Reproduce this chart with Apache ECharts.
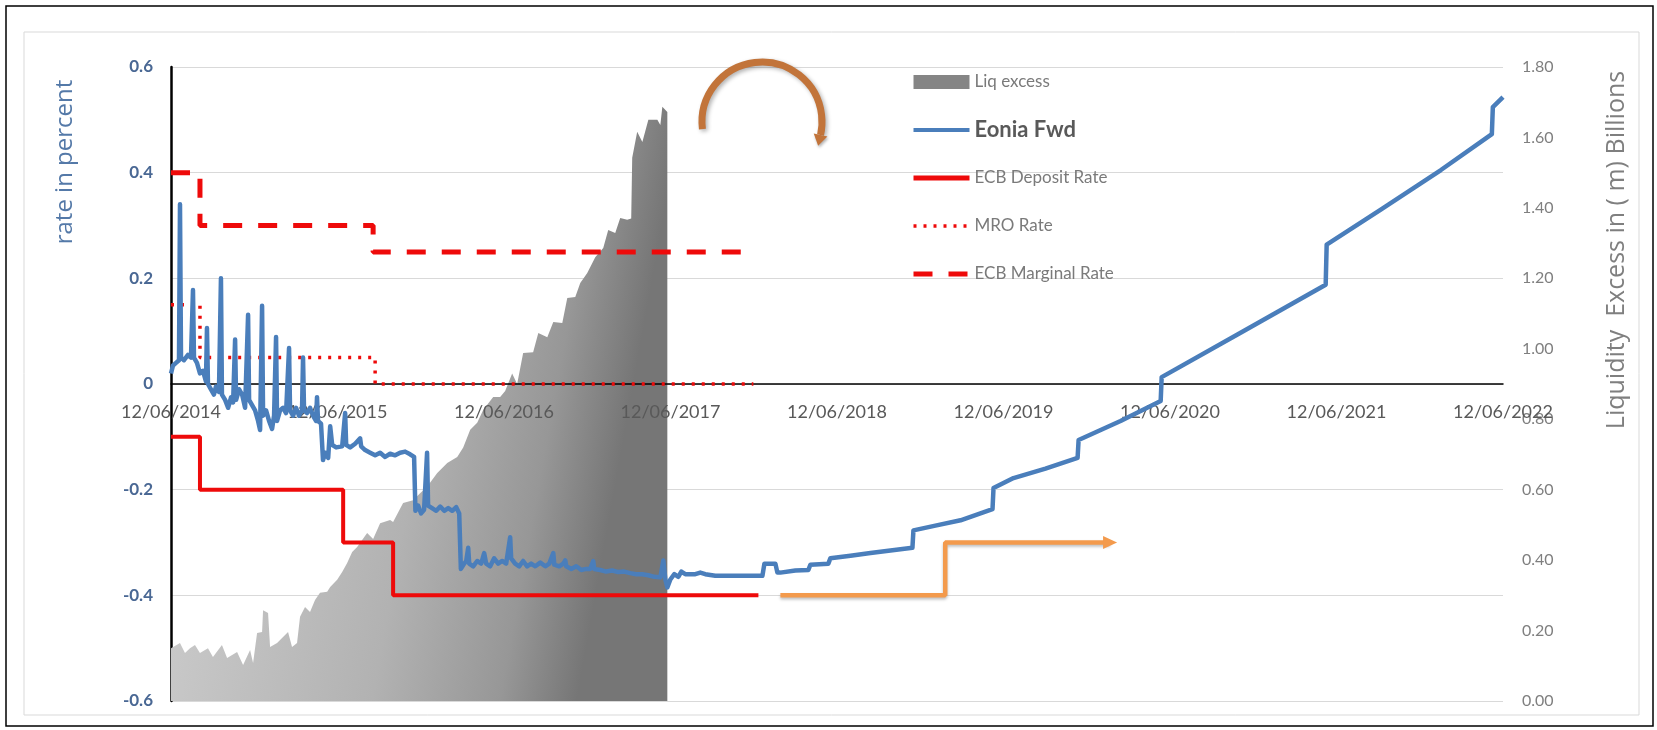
<!DOCTYPE html>
<html>
<head>
<meta charset="utf-8">
<title>Eonia forward, ECB rates and liquidity excess</title>
<script src="https://cdn.jsdelivr.net/npm/echarts@6/dist/echarts.min.js"></script>
<style>
  html, body { margin: 0; padding: 0; background: #ffffff; }
  #chart { width: 1657px; height: 730px; }
</style>
</head>
<body>
<div id="chart"></div>
<script>
// x positions are in years counted from 12/06/2014
const xTickLabels = ['12/06/2014', '12/06/2015', '12/06/2016', '12/06/2017', '12/06/2018',
  '12/06/2019', '12/06/2020', '12/06/2021', '12/06/2022'];

// Liquidity excess (right axis, billions)
const liqT = [0, 0.012, 0.054, 0.084, 0.114, 0.144, 0.174, 0.222, 0.252, 0.306, 0.337, 0.397, 0.433,
  0.475, 0.493, 0.517, 0.547, 0.553, 0.583, 0.595, 0.637, 0.655, 0.703, 0.727, 0.757, 0.775, 0.805,
  0.835, 0.865, 0.895, 0.938, 0.956, 0.998, 1.028, 1.058, 1.088, 1.118, 1.178, 1.214, 1.256, 1.316,
  1.334, 1.394, 1.454, 1.496, 1.538, 1.599, 1.659, 1.719, 1.755, 1.797, 1.839, 1.875, 1.935, 1.977,
  2.007, 2.049, 2.079, 2.115, 2.175, 2.206, 2.260, 2.296, 2.350, 2.380, 2.428, 2.458, 2.500, 2.548,
  2.596, 2.626, 2.668, 2.698, 2.740, 2.764, 2.770, 2.800, 2.831, 2.867, 2.921, 2.939, 2.951, 2.981];
const liqExcess = [0.15, 0.153, 0.165, 0.136, 0.15, 0.159, 0.136, 0.15, 0.125, 0.159, 0.122, 0.139, 0.102,
  0.145, 0.108, 0.193, 0.196, 0.258, 0.25, 0.153, 0.165, 0.173, 0.196, 0.153, 0.165, 0.239, 0.267,
  0.253, 0.287, 0.307, 0.31, 0.324, 0.344, 0.366, 0.392, 0.423, 0.437, 0.477, 0.46, 0.505, 0.514,
  0.508, 0.562, 0.57, 0.59, 0.608, 0.647, 0.676, 0.693, 0.72, 0.77, 0.79, 0.826, 0.863, 0.863,
  0.88, 0.93, 0.9, 0.988, 0.99, 1.045, 1.033, 1.076, 1.073, 1.144, 1.147, 1.187, 1.215, 1.26,
  1.286, 1.337, 1.329, 1.371, 1.366, 1.37, 1.542, 1.616, 1.587, 1.65, 1.65, 1.635, 1.687, 1.672];

// Eonia forward (left axis, percent)
const eoniaT = [0, 0.012, 0.030, 0.048, 0.054, 0.060, 0.078, 0.102, 0.120, 0.132, 0.138, 0.156, 0.174,
  0.192, 0.210, 0.216, 0.222, 0.240, 0.258, 0.270, 0.288, 0.300, 0.306, 0.325, 0.343, 0.361, 0.373,
  0.385, 0.391, 0.409, 0.427, 0.445, 0.463, 0.469, 0.487, 0.505, 0.523, 0.535, 0.547, 0.553, 0.571,
  0.589, 0.607, 0.619, 0.631, 0.637, 0.655, 0.673, 0.691, 0.709, 0.715, 0.733, 0.751, 0.769, 0.787,
  0.793, 0.799, 0.817, 0.835, 0.853, 0.871, 0.877, 0.883, 0.901, 0.913, 0.925, 0.944, 0.956, 0.968,
  0.992, 1.028, 1.046, 1.052, 1.076, 1.106, 1.136, 1.142, 1.166, 1.196, 1.226, 1.256, 1.286, 1.316,
  1.346, 1.376, 1.406, 1.436, 1.460, 1.468, 1.484, 1.502, 1.520, 1.532, 1.538, 1.544, 1.568, 1.593,
  1.617, 1.641, 1.665, 1.689, 1.713, 1.731, 1.741, 1.761, 1.773, 1.785, 1.791, 1.815, 1.839, 1.863,
  1.881, 1.893, 1.917, 1.941, 1.965, 1.989, 2.013, 2.037, 2.043, 2.067, 2.091, 2.115, 2.139, 2.163,
  2.188, 2.218, 2.248, 2.272, 2.296, 2.302, 2.332, 2.356, 2.368, 2.374, 2.404, 2.434, 2.464, 2.494,
  2.518, 2.536, 2.542, 2.578, 2.614, 2.650, 2.686, 2.722, 2.758, 2.794, 2.831, 2.867, 2.903, 2.939,
  2.957, 2.969, 2.981, 2.999, 3.023, 3.047, 3.065, 3.089, 3.119, 3.149, 3.179, 3.209, 3.269, 3.359,
  3.450, 3.552, 3.564, 3.630, 3.642, 3.660, 3.750, 3.828, 3.840, 3.948, 3.960, 4.081, 4.201, 4.321,
  4.453, 4.459, 4.591, 4.742, 4.934, 4.940, 5.060, 5.252, 5.445, 5.451, 5.703, 5.944, 5.950, 6.424,
  6.935, 6.941, 7.266, 7.627, 7.933, 7.939, 8.0];
const eoniaFwd = [0.02, 0.035, 0.04, 0.045, 0.34, 0.05, 0.045, 0.055, 0.05, 0.178, 0.05, 0.04, 0.02,
  0.025, 0.005, 0.106, 0.0, -0.01, -0.02, -0.005, -0.015, 0.2, -0.02, -0.03, -0.045, -0.025, -0.035,
  0.084, -0.03, -0.01, -0.02, -0.045, 0.131, -0.03, -0.04, -0.05, -0.07, -0.087, 0.148, -0.06, -0.05,
  -0.07, -0.085, -0.06, 0.089, -0.07, -0.05, -0.045, -0.055, 0.068, -0.05, -0.06, -0.045, -0.06, -0.05,
  0.05, -0.05, -0.055, -0.045, -0.06, -0.07, -0.025, -0.07, -0.075, -0.144, -0.13, -0.14, -0.08, -0.115,
  -0.12, -0.118, -0.055, -0.115, -0.12, -0.113, -0.103, -0.118, -0.125, -0.13, -0.135, -0.13, -0.138, -0.132,
  -0.135, -0.13, -0.128, -0.133, -0.138, -0.24, -0.23, -0.245, -0.238, -0.24, -0.13, -0.23, -0.235, -0.24,
  -0.232, -0.24, -0.235, -0.24, -0.233, -0.245, -0.35, -0.34, -0.335, -0.31, -0.34, -0.345, -0.335, -0.34,
  -0.32, -0.34, -0.345, -0.33, -0.34, -0.335, -0.34, -0.29, -0.33, -0.34, -0.345, -0.335, -0.345, -0.34,
  -0.345, -0.338, -0.345, -0.34, -0.32, -0.342, -0.345, -0.34, -0.334, -0.345, -0.35, -0.345, -0.352, -0.35,
  -0.35, -0.335, -0.35, -0.352, -0.355, -0.353, -0.356, -0.355, -0.358, -0.36, -0.36, -0.362, -0.365, -0.366,
  -0.334, -0.37, -0.385, -0.37, -0.36, -0.365, -0.355, -0.36, -0.36, -0.36, -0.357, -0.36, -0.363, -0.363,
  -0.363, -0.363, -0.34, -0.34, -0.357, -0.357, -0.353, -0.352, -0.342, -0.34, -0.33, -0.325, -0.32, -0.315,
  -0.31, -0.277, -0.268, -0.258, -0.237, -0.197, -0.178, -0.16, -0.14, -0.106, -0.07, -0.032, 0.013, 0.097,
  0.188, 0.264, 0.33, 0.405, 0.473, 0.524, 0.543];

// Policy rates: each value holds until the next change point
const depositT = [0, 0.174, 1.034, 1.334, 3.528];
const depositRate = [-0.1, -0.2, -0.3, -0.4, -0.4];
const mroT = [0, 0.174, 1.226, 3.498];
const mroRate = [0.15, 0.05, 0, 0];
const marginalT = [0, 0.174, 1.214, 3.44];
const marginalRate = [0.4, 0.3, 0.25, 0.25];

// Expected deposit rate path (orange arrow)
const outlookT = [3.66, 4.65, 5.64];
const outlookRate = [-0.4, -0.3, -0.3];

const zip = (xs, ys) => xs.map((x, i) => [x, ys[i]]);
const FONT = 'Lato, "Liberation Sans", sans-serif';
const RED = '#ee0a0a';
const BLUE = '#4a7ebb';

const GRID = { left: 171, right: 154, top: 67, bottom: 29 };
const plotHeight = 730 - GRID.top - GRID.bottom;
const leftMin = -0.6, leftMax = 0.6;
// the date axis sits on the zero line of the rate axis
const xAxisOffset = -plotHeight * (0 - leftMin) / (leftMax - leftMin);

const chart = echarts.init(document.getElementById('chart'), null, { renderer: 'canvas' });

const outlookData = zip(outlookT, outlookRate);
const last = outlookData.length - 1;
outlookData[last] = { value: outlookData[last], symbol: 'triangle', symbolSize: [13, 14], symbolRotate: -90 };

// Decorative curved arrow above the chart
const arc = { cx: 762, cy: 122, r: 60, a0: Math.PI - 0.12, a1: 2 * Math.PI + 0.22 };
const endX = arc.cx + arc.r * Math.cos(arc.a1), endY = arc.cy + arc.r * Math.sin(arc.a1);
const tx = -Math.sin(arc.a1), ty = Math.cos(arc.a1);
const px = ty, py = -tx;
const arrowHead = [
  [endX + tx * 11, endY + ty * 11],
  [endX + px * 7, endY + py * 7],
  [endX - px * 7, endY - py * 7]
];

const option = {
  animation: false,
  backgroundColor: '#ffffff',
  grid: Object.assign({ containLabel: false }, GRID),
  legend: {
    orient: 'vertical',
    left: 906,
    top: 65,
    itemWidth: 56,
    itemHeight: 14,
    itemGap: 24,
    selectedMode: false,
    itemStyle: { opacity: 0 },
    textStyle: { fontFamily: FONT, fontSize: 17, color: '#7a7a7a', lineHeight: 24 },
    data: [
      { name: 'Liq excess', icon: 'rect', itemStyle: { color: '#858585', opacity: 1 } },
      {
        name: 'Eonia Fwd',
        lineStyle: { width: 4 },
        textStyle: { fontSize: 22, fontWeight: 'bold', color: '#595959', lineHeight: 24 }
      },
      { name: 'ECB Deposit Rate', lineStyle: { width: 5 } },
      { name: 'MRO Rate', lineStyle: { width: 3.5 } },
      { name: 'ECB Marginal Rate', lineStyle: { width: 5 } }
    ]
  },
  xAxis: {
    type: 'value',
    min: 0,
    max: 8,
    interval: 1,
    z: 2.5,
    offset: xAxisOffset,
    axisLine: { onZero: false, lineStyle: { color: '#000000', width: 1.5 } },
    axisTick: { show: false },
    splitLine: { show: false },
    axisLabel: {
      margin: 19,
      fontFamily: FONT,
      fontSize: 18,
      color: '#595959',
      formatter: v => xTickLabels[Math.round(v)] || ''
    }
  },
  yAxis: [
    {
      type: 'value',
      min: leftMin,
      max: leftMax,
      interval: 0.2,
      axisLine: { show: true, onZero: false, lineStyle: { color: '#000000', width: 2.5 } },
      axisTick: { show: false },
      splitLine: { show: true, lineStyle: { color: '#d9d9d9', width: 1 } },
      axisLabel: {
        margin: 18,
        fontFamily: FONT,
        fontSize: 17,
        fontWeight: 'bold',
        color: '#4a6894',
        formatter: v => (Math.abs(v) < 1e-9 ? '0' : v.toFixed(1))
      }
    },
    {
      type: 'value',
      position: 'right',
      min: 0,
      max: 1.8,
      interval: 0.2,
      axisLine: { show: false },
      axisTick: { show: false },
      splitLine: { show: false },
      axisLabel: {
        margin: 19,
        fontFamily: FONT,
        fontSize: 16,
        color: '#7f7f7f',
        formatter: v => v.toFixed(2)
      }
    }
  ],
  series: [
    {
      name: 'Liq excess',
      type: 'line',
      yAxisIndex: 1,
      z: 1,
      symbol: 'none',
      itemStyle: { color: '#858585' },
      lineStyle: { width: 0 },
      areaStyle: {
        opacity: 1,
        color: new echarts.graphic.LinearGradient(0, 0, 1, 0.15, [
          { offset: 0, color: '#d2d2d2' },
          { offset: 0.6, color: '#b2b2b2' },
          { offset: 0.85, color: '#979797' },
          { offset: 1, color: '#767676' }
        ])
      },
      data: zip(liqT, liqExcess)
    },
    {
      name: 'ECB Marginal Rate',
      type: 'line',
      z: 3,
      step: 'end',
      symbol: 'none',
      itemStyle: { color: RED },
      lineStyle: { color: RED, width: 5, type: [19, 16] },
      data: zip(marginalT, marginalRate)
    },
    {
      name: 'MRO Rate',
      type: 'line',
      z: 3,
      step: 'end',
      symbol: 'none',
      itemStyle: { color: RED },
      lineStyle: { color: RED, width: 3.5, type: [3, 7] },
      data: zip(mroT, mroRate)
    },
    {
      name: 'ECB Deposit Rate',
      type: 'line',
      z: 3,
      step: 'end',
      symbol: 'none',
      itemStyle: { color: RED },
      lineStyle: { color: RED, width: 4 },
      data: zip(depositT, depositRate)
    },
    {
      name: 'Eonia Fwd',
      type: 'line',
      z: 4,
      symbol: 'none',
      itemStyle: { color: BLUE },
      lineStyle: { color: BLUE, width: 4.5, join: 'round' },
      data: zip(eoniaT, eoniaFwd)
    },
    {
      name: 'Deposit outlook',
      type: 'line',
      z: 4,
      step: 'end',
      symbol: 'none',
      showSymbol: true,
      itemStyle: { color: '#f39a4c' },
      lineStyle: {
        color: '#f39a4c', width: 4.5,
        shadowColor: 'rgba(0,0,0,0.25)', shadowBlur: 3, shadowOffsetY: 2
      },
      data: outlookData
    }
  ],
  graphic: [
    {
      type: 'rect', z: -10, silent: true,
      shape: { x: 6, y: 6, width: 1647, height: 720 },
      style: { fill: null, stroke: '#000000', lineWidth: 1.5 }
    },
    {
      type: 'rect', z: -10, silent: true,
      shape: { x: 24, y: 32, width: 1615, height: 683 },
      style: { fill: null, stroke: '#d9d9d9', lineWidth: 1 }
    },
    {
      type: 'text', silent: true,
      x: 65, y: 162, rotation: Math.PI / 2,
      style: {
        text: 'rate in percent',
        fill: '#5479a8',
        font: '24px "Open Sans", sans-serif',
        align: 'center', verticalAlign: 'middle',
        textAlign: 'center', textVerticalAlign: 'middle'
      }
    },
    {
      type: 'text', silent: true,
      x: 1617, y: 250, rotation: Math.PI / 2,
      style: {
        text: 'Liquidity  Excess in ( m) Billions',
        fill: '#7f7f7f',
        font: '25px "Open Sans", sans-serif',
        align: 'center', verticalAlign: 'middle',
        textAlign: 'center', textVerticalAlign: 'middle'
      }
    },
    {
      type: 'arc', silent: true, z: 20,
      shape: { cx: arc.cx, cy: arc.cy, r: arc.r, startAngle: arc.a0, endAngle: arc.a1, clockwise: true },
      style: {
        fill: null, stroke: '#c2743a', lineWidth: 7,
        shadowColor: 'rgba(0,0,0,0.3)', shadowBlur: 4, shadowOffsetX: 2, shadowOffsetY: 2
      }
    },
    {
      type: 'polygon', silent: true, z: 20,
      shape: { points: arrowHead },
      style: { fill: '#c2743a', shadowColor: 'rgba(0,0,0,0.3)', shadowBlur: 3, shadowOffsetX: 1, shadowOffsetY: 2 }
    }
  ]
};

chart.setOption(option);
</script>
</body>
</html>
